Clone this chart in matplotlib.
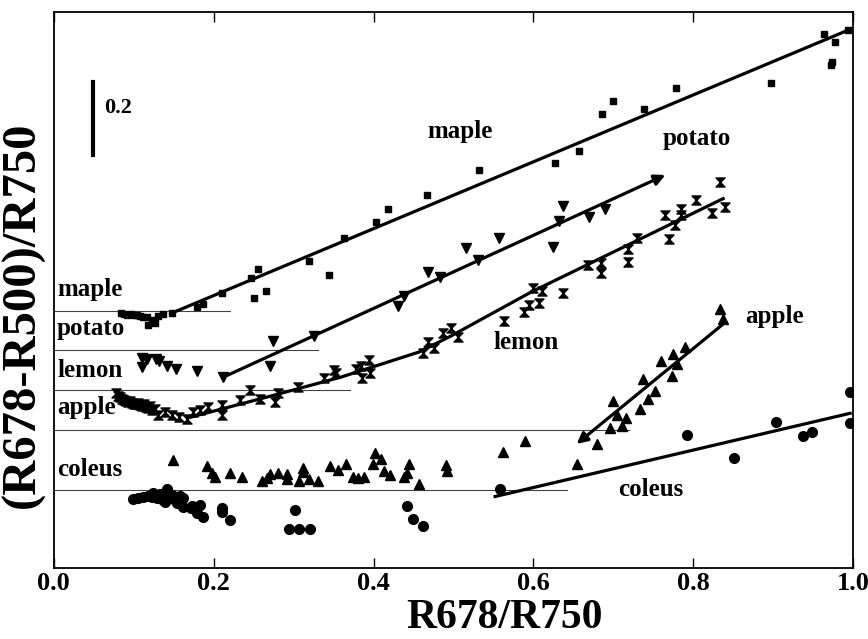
# -*- coding: utf-8 -*-
# Offset scatter of (R678-R500)/R750 vs R678/R750 for five leaf species

import matplotlib.pyplot as plt
from matplotlib.path import Path

plt.rcParams['font.family'] = ['Liberation Serif', 'DejaVu Serif']
plt.rcParams['font.weight'] = 'bold'

# ---- data (y is offset per species) ----
maple_x = [0.084, 0.088, 0.092, 0.097, 0.100, 0.104, 0.108, 0.112, 0.117, 0.118,
           0.123, 0.127, 0.130, 0.137, 0.148, 0.179, 0.186, 0.211, 0.247, 0.250,
           0.255, 0.266, 0.319, 0.344, 0.363, 0.403, 0.418, 0.467, 0.532, 0.627,
           0.657, 0.686, 0.699, 0.738, 0.778, 0.897, 0.964, 0.972, 0.974, 0.977, 0.994]
maple_y = [0.699, 0.696, 0.693, 0.696, 0.693, 0.693, 0.690, 0.688, 0.688, 0.666,
           0.679, 0.671, 0.690, 0.696, 0.699, 0.715, 0.723, 0.753, 0.795, 0.740,
           0.819, 0.759, 0.841, 0.803, 0.904, 0.948, 0.984, 1.022, 1.090, 1.110,
           1.142, 1.244, 1.279, 1.258, 1.315, 1.329, 1.463, 1.378, 1.386, 1.441, 1.474]
maple_fit_x = [0.148, 0.994]
maple_fit_y = [0.699, 1.474]

potato_x = [0.110, 0.110, 0.117, 0.128, 0.132, 0.142, 0.153, 0.179, 0.212, 0.274,
            0.270, 0.325, 0.430, 0.438, 0.468, 0.483, 0.516, 0.531, 0.557, 0.624,
            0.632, 0.637, 0.670, 0.689]
potato_y = [0.575, 0.551, 0.573, 0.573, 0.567, 0.553, 0.545, 0.540, 0.523, 0.622,
            0.553, 0.636, 0.718, 0.745, 0.811, 0.797, 0.877, 0.844, 0.904, 0.879,
            0.951, 0.992, 0.962, 0.984]
potato_fit_x = [0.212, 0.765]
potato_fit_y = [0.523, 1.077]

lemon_x = [0.078, 0.080, 0.083, 0.085, 0.088, 0.090, 0.093, 0.095, 0.098, 0.100,
           0.103, 0.105, 0.108, 0.110, 0.113, 0.115, 0.118, 0.120, 0.123, 0.127,
           0.130, 0.139, 0.148, 0.156, 0.167, 0.174, 0.183, 0.193, 0.211, 0.211,
           0.233, 0.246, 0.258, 0.277, 0.281, 0.305, 0.338, 0.350, 0.353, 0.378,
           0.384, 0.386, 0.394, 0.396, 0.462, 0.468, 0.476, 0.487, 0.497, 0.506,
           0.563, 0.588, 0.595, 0.607, 0.600, 0.611, 0.637, 0.668, 0.685, 0.685,
           0.718, 0.718, 0.730, 0.765, 0.769, 0.777, 0.785, 0.785, 0.803, 0.823,
           0.833, 0.839]
lemon_y = [0.479, 0.471, 0.468, 0.463, 0.460, 0.458, 0.455, 0.458, 0.452, 0.449,
           0.449, 0.452, 0.447, 0.444, 0.449, 0.441, 0.438, 0.444, 0.433, 0.436,
           0.419, 0.427, 0.419, 0.414, 0.408, 0.427, 0.433, 0.441, 0.447, 0.419,
           0.460, 0.488, 0.463, 0.455, 0.479, 0.496, 0.521, 0.542, 0.534, 0.545,
           0.553, 0.521, 0.570, 0.534, 0.589, 0.619, 0.603, 0.644, 0.658, 0.633,
           0.677, 0.701, 0.721, 0.726, 0.767, 0.759, 0.753, 0.830, 0.836, 0.808,
           0.874, 0.838, 0.904, 0.967, 0.901, 0.940, 0.984, 0.967, 1.008, 0.973,
           1.058, 0.989]
lemon_fit_x = [0.167, 0.271, 0.359, 0.457, 0.497, 0.597, 0.839]
lemon_fit_y = [0.411, 0.471, 0.523, 0.592, 0.636, 0.756, 1.014]

apple_x = [0.149, 0.192, 0.198, 0.201, 0.221, 0.235, 0.261, 0.267, 0.271, 0.281,
           0.292, 0.292, 0.307, 0.312, 0.312, 0.319, 0.331, 0.345, 0.356, 0.366,
           0.374, 0.380, 0.388, 0.399, 0.402, 0.409, 0.413, 0.420, 0.438, 0.442,
           0.444, 0.457, 0.491, 0.492, 0.562, 0.590, 0.655, 0.679, 0.696, 0.711,
           0.705, 0.716, 0.700, 0.733, 0.743, 0.752, 0.737, 0.760, 0.773, 0.775,
           0.779, 0.789, 0.833, 0.837]
apple_y = [0.296, 0.279, 0.260, 0.249, 0.260, 0.249, 0.238, 0.247, 0.258, 0.260,
           0.258, 0.244, 0.238, 0.274, 0.263, 0.244, 0.238, 0.279, 0.268, 0.285,
           0.249, 0.247, 0.249, 0.285, 0.315, 0.299, 0.266, 0.255, 0.249, 0.260,
           0.285, 0.230, 0.282, 0.266, 0.318, 0.348, 0.285, 0.340, 0.384, 0.389,
           0.419, 0.411, 0.458, 0.436, 0.463, 0.485, 0.518, 0.567, 0.526, 0.586,
           0.559, 0.605, 0.710, 0.682]
apple_fit_x = [0.837, 0.654]
apple_fit_y = [0.668, 0.340]

coleus_x = [0.099, 0.105, 0.112, 0.118, 0.123, 0.124, 0.129, 0.133, 0.136, 0.139,
            0.142, 0.146, 0.148, 0.152, 0.154, 0.158, 0.161, 0.162, 0.171, 0.173,
            0.179, 0.183, 0.187, 0.210, 0.211, 0.221, 0.302, 0.294, 0.307, 0.320,
            0.442, 0.449, 0.462, 0.558, 0.792, 0.851, 0.903, 0.937, 0.949, 0.996, 0.996]
coleus_y = [0.189, 0.192, 0.195, 0.197, 0.195, 0.205, 0.192, 0.203, 0.186, 0.181,
            0.216, 0.200, 0.200, 0.186, 0.178, 0.197, 0.167, 0.192, 0.164, 0.170,
            0.151, 0.173, 0.140, 0.164, 0.153, 0.132, 0.159, 0.107, 0.107, 0.107,
            0.170, 0.134, 0.115, 0.216, 0.364, 0.301, 0.400, 0.362, 0.373, 0.482, 0.397]
coleus_fit_x = [0.550, 0.998]
coleus_fit_y = [0.195, 0.425]

species = ['maple', 'potato', 'lemon', 'apple', 'coleus']
base_y = [0.704, 0.597, 0.488, 0.378, 0.214]
base_end = [0.221, 0.331, 0.371, 0.720, 0.642]
left_label_y = [0.762, 0.655, 0.542, 0.441, 0.271]
right_label_xy = [(0.508, 1.197), (0.804, 1.178), (0.591, 0.619),
                  (0.902, 0.690), (0.747, 0.216)]

xticks = [0.0, 0.2, 0.4, 0.6, 0.8, 1.0]

# hourglass marker for lemon
hourglass = Path([(-1, 1), (1, 1), (-1, -1), (1, -1), (-1, 1)],
                 [Path.MOVETO, Path.LINETO, Path.LINETO, Path.LINETO, Path.CLOSEPOLY])

fig = plt.figure(figsize=(8.68, 6.39), dpi=100)
ax = fig.add_axes([0.062, 0.111, 0.921, 0.870])

# baselines
for yb, xe in zip(base_y, base_end):
    ax.plot([0, xe], [yb, yb], color='#444444', lw=0.8, zorder=1)

ax.plot(maple_x, maple_y, 's', color='k', ms=4.5, zorder=3)
ax.plot(potato_x, potato_y, 'v', color='k', ms=7, zorder=3)
ax.plot(lemon_x, lemon_y, marker=hourglass, ls='none', color='k', ms=6.5, zorder=3)
ax.plot(apple_x, apple_y, '^', color='k', ms=7, zorder=3)
ax.plot(coleus_x, coleus_y, 'o', color='k', ms=7, zorder=3)

# fitted lines
ax.plot(maple_fit_x, maple_fit_y, color='k', lw=2.3, solid_capstyle='butt')
ax.plot(lemon_fit_x, lemon_fit_y, color='k', lw=2.3, solid_capstyle='butt')
ax.plot(coleus_fit_x, coleus_fit_y, color='k', lw=2.3, solid_capstyle='butt')
arr = dict(arrowstyle='-|>', color='k', lw=2.3, mutation_scale=16,
           shrinkA=0, shrinkB=0)
ax.annotate('', xy=(potato_fit_x[1], potato_fit_y[1]),
            xytext=(potato_fit_x[0], potato_fit_y[0]), arrowprops=arr)
ax.annotate('', xy=(apple_fit_x[1], apple_fit_y[1]),
            xytext=(apple_fit_x[0], apple_fit_y[0]), arrowprops=arr)

# labels
for name, yl in zip(species, left_label_y):
    ax.text(0.004, yl, name, fontsize=18, fontweight='bold', ha='left', va='center')
for name, (xl, yl) in zip(species, right_label_xy):
    ax.text(xl, yl, name, fontsize=18, fontweight='bold', ha='center', va='center')

# 0.2 scale bar
ax.plot([0.049, 0.049], [1.132, 1.332], color='k', lw=3)
ax.text(0.063, 1.260, '0.2', fontsize=16, fontweight='bold', ha='left', va='center')

ax.set_xlim(0, 1.0)
ax.set_ylim(0, 1.523)
ax.set_xticks(xticks)
ax.set_xticklabels(['%.1f' % t for t in xticks])
ax.set_yticks([])
ax.tick_params(axis='x', direction='in', top=True, length=7, width=1, pad=3,
               labelsize=19)
for s in ax.spines.values():
    s.set_linewidth(1.3)
ax.set_xlabel('R678/R750', fontsize=30, fontweight='bold')
ax.xaxis.set_label_coords(0.564, -0.056)
ax.set_ylabel('(R678-R500)/R750', fontsize=35, fontweight='bold')
ax.yaxis.set_label_coords(-0.011, 0.455)

fig.savefig('out.png', dpi=100)
